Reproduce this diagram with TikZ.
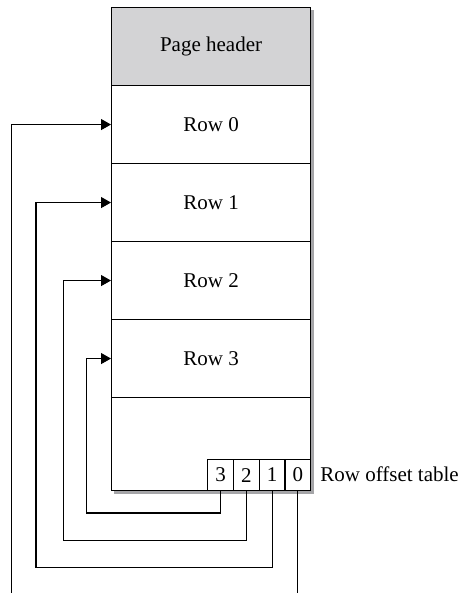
\documentclass[tikz,border=0pt]{standalone}
\usepackage{fontspec}
\setmainfont{Liberation Serif}
\usetikzlibrary{arrows.meta}
\definecolor{hdrgray}{RGB}{211,211,213}
\definecolor{shadowgray}{RGB}{165,165,168}
\begin{document}
\begin{tikzpicture}[x=1pt,y=-1pt,
  font=\fontsize{21}{25}\selectfont,
  rowbox/.style={draw, line width=1.1pt, minimum width=199pt, minimum height=78pt, inner sep=0pt, anchor=north west},
  ocell/.style={draw, line width=1.1pt, minimum width=25.7pt, minimum height=31pt, inner sep=0pt, anchor=north west},
  link/.style={line width=1.1pt, -{Triangle[length=10pt,width=11pt]}},
  plainlink/.style={line width=1.1pt}]
\useasboundingbox (0,0) rectangle (460,593);
\clip (0,0) rectangle (460,593);
% shadow and page body
\fill[shadowgray] (114,10) rectangle (313.5,493.5);
\fill[white] (111,7) rectangle (310,490);
% rows
\node[rowbox, fill=hdrgray] (hdr) at (111,7) {Page header};
\node[rowbox] (r0) at (111,85) {Row 0};
\node[rowbox] (r1) at (111,163) {Row 1};
\node[rowbox] (r2) at (111,241) {Row 2};
\node[rowbox] (r3) at (111,319) {Row 3};
\node[rowbox, minimum height=93pt] (free) at (111,397) {};
% offset table cells
\node[ocell] (c3) at (207.3,459) {3};
\node[ocell] (c2) at (233.0,459) {2};
\node[ocell] (c1) at (258.7,459) {1};
\node[ocell] (c0) at (284.4,459) {0};
\node[anchor=base west, inner sep=0pt] (lbl) at ([xshift=9pt]c0.base east) {Row offset table};
% turning points
\coordinate (t3) at (86.7,513);
\coordinate (t2) at (63.3,540.7);
\coordinate (t1) at (36,567.7);
\coordinate (t0) at (11.7,610);
% connectors
\draw[link] (c3.south) |- (t3) |- (r3.west);
\draw[link] (c2.south) |- (t2) |- (r2.west);
\draw[link] (c1.south) |- (t1) |- (r1.west);
\draw[link] (c0.south) |- (t0) |- (r0.west);
\end{tikzpicture}
\end{document}
